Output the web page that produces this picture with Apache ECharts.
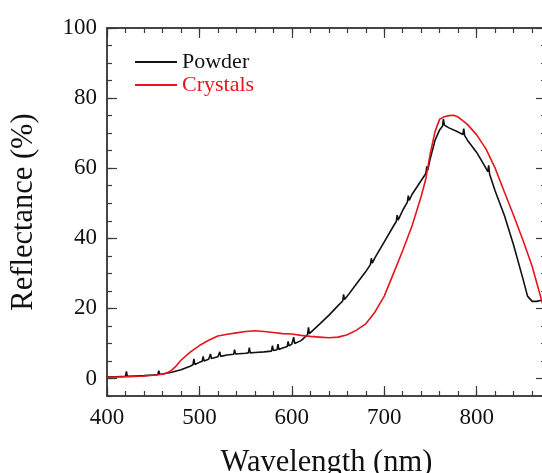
<!DOCTYPE html>
<html>
<head>
<meta charset="utf-8">
<script src="https://cdn.jsdelivr.net/npm/echarts@6/dist/echarts.min.js"></script>
<style>
  html, body { margin: 0; padding: 0; background: #fff; }
  #chart { width: 542px; height: 473px; }
</style>
</head>
<body>
<div id="chart"></div>
<script>
// Diffuse reflectance spectra: powder vs. crystals
const powderNm = [
  400, 410, 420, 421, 422, 430, 440, 450, 455, 456, 457, 460, 470, 480, 490, 493, 494, 495,
  500, 503, 504, 505, 510, 511, 512, 513, 520, 521, 522, 523, 530, 537, 538, 539, 540,
  550, 553, 554, 555, 560, 570, 578, 579, 580, 581, 584, 585, 586, 590, 595, 596, 597,
  600, 601, 602, 603, 610, 617, 618, 619, 620, 630, 640, 650, 655, 656, 657, 660, 670,
  680, 685, 686, 687, 690, 700, 710, 713, 714, 715, 720, 725, 726, 727, 730, 740, 745,
  746, 747, 750, 755, 760, 763, 764, 765, 770, 780, 785, 786, 787, 790, 800, 810, 812,
  813, 814, 820, 830, 840, 850, 855, 860, 865, 870, 875
];
const powderR = [
  0.5, 0.5, 0.6, 2.0, 0.6, 0.7, 0.8, 1.0, 1.1, 2.2, 1.2, 1.3, 1.8, 2.5, 3.5, 3.9, 5.6, 4.0,
  4.6, 4.9, 6.3, 5.0, 5.5, 5.6, 7.0, 5.7, 6.2, 6.2, 7.6, 6.3, 6.7, 6.9, 8.2, 7.0, 7.0,
  7.2, 7.3, 8.8, 7.3, 7.4, 7.6, 7.8, 9.4, 8.0, 8.1, 8.2, 9.8, 8.3, 8.7, 9.1, 10.6, 9.3,
  9.8, 9.9, 11.8, 10.0, 10.8, 12.5, 14.6, 12.8, 13.0, 15.5, 18.0, 20.8, 22.1, 24.0, 22.5, 23.5, 27.0,
  30.5, 32.5, 34.3, 32.9, 34.5, 39.0, 43.5, 44.8, 46.6, 45.2, 48.0, 50.3, 52.2, 50.8, 52.5, 56.5, 58.5,
  60.5, 59.4, 63.0, 68.0, 71.0, 72.0, 74.0, 72.3, 71.5, 70.3, 69.6, 71.3, 69.3, 68.0, 64.5, 60.0, 59.0,
  60.8, 58.3, 53.5, 46.5, 38.0, 28.5, 23.5, 22.0, 22.0, 22.3, 22.8
];

const crystalsNm = [
  400, 410, 420, 430, 440, 450, 460, 465, 470, 475, 480, 490, 500, 510, 520, 530, 540,
  550, 560, 570, 580, 590, 600, 610, 620, 630, 640, 650, 660, 670, 680, 690, 700, 710,
  720, 730, 740, 745, 750, 755, 760, 765, 770, 775, 780, 790, 800, 810, 820, 830, 840,
  850, 860, 870, 875
];
const crystalsR = [
  0.4, 0.4, 0.5, 0.6, 0.7, 0.9, 1.2, 1.6, 2.4, 3.6, 5.2, 7.5, 9.4, 10.9, 12.1, 12.6, 13.0,
  13.4, 13.6, 13.4, 13.1, 12.8, 12.7, 12.3, 12.0, 11.8, 11.6, 11.8, 12.5, 13.8, 15.6, 19.0, 23.5, 30.0,
  36.5, 43.5, 52.0, 57.0, 64.5, 70.5, 74.0, 74.7, 75.0, 75.1, 74.6, 72.5, 69.5, 65.5, 60.0, 53.2, 46.5,
  39.5, 32.0, 22.5, 18.0
];

const xMajorTicks = [400, 500, 600, 700, 800];
const yMajorTicks = [0, 20, 40, 60, 80, 100];

const FONT = 'Liberation Serif';
const AXIS_COLOR = '#3a3a3a';
const BLACK = '#111111';
const RED = '#e8141c';

const pairs = (xs, ys) => xs.map((x, i) => [x, ys[i]]);
const axisLine = { show: true, onZero: false, lineStyle: { color: AXIS_COLOR, width: 1.5 } };
const X_MIN = 400, X_MAX = 875, Y_MIN = -5, Y_MAX = 100;

function xAxisDef(position, major, withLabels) {
  const a = {
    type: 'value', position, min: X_MIN, max: X_MAX,
    axisLine, splitLine: { show: false },
    axisTick: { show: true, inside: true, length: major ? 10 : 5, lineStyle: { color: AXIS_COLOR, width: 1.2 } },
    axisLabel: { show: false }
  };
  if (major) {
    a.axisTick.customValues = xMajorTicks;
    if (withLabels) {
      a.axisLabel = { show: true, customValues: xMajorTicks, margin: 10, color: '#111', fontFamily: FONT, fontSize: 23 };
      a.name = 'Wavelength (nm)';
      a.nameLocation = 'middle';
      a.nameGap = 51;
      a.nameTextStyle = { color: '#111', fontFamily: FONT, fontSize: 30.5 };
    }
  } else {
    a.interval = 20;
  }
  return a;
}

function yAxisDef(position, major, withLabels) {
  const a = {
    type: 'value', position, min: Y_MIN, max: Y_MAX,
    axisLine, splitLine: { show: false },
    axisTick: { show: true, inside: true, length: major ? 10 : 5, lineStyle: { color: AXIS_COLOR, width: 1.2 } },
    axisLabel: { show: false }
  };
  if (major) {
    a.axisTick.customValues = yMajorTicks;
    if (withLabels) {
      a.axisLabel = { show: true, customValues: yMajorTicks, margin: 10, color: '#111', fontFamily: FONT, fontSize: 23 };
      a.name = 'Reflectance (%)';
      a.nameLocation = 'middle';
      a.nameGap = 68;
      a.nameTextStyle = { color: '#111', fontFamily: FONT, fontSize: 30.5 };
    }
  } else {
    a.interval = 5;
  }
  return a;
}

const chart = echarts.init(document.getElementById('chart'), null, { renderer: 'canvas' });
chart.setOption({
  animation: false,
  backgroundColor: '#ffffff',
  textStyle: { fontFamily: FONT },
  grid: { left: 107, right: -4, top: 28, bottom: 77, containLabel: false, outerBoundsMode: 'none' },
  xAxis: [
    xAxisDef('bottom', false, false),
    xAxisDef('bottom', true, true),
    xAxisDef('top', false, false),
    xAxisDef('top', true, false)
  ],
  yAxis: [
    yAxisDef('left', false, false),
    yAxisDef('left', true, true),
    yAxisDef('right', false, false),
    yAxisDef('right', true, false)
  ],
  legend: {
    orient: 'vertical',
    left: 130,
    top: 46,
    itemWidth: 42,
    itemHeight: 2,
    itemGap: 1,
    icon: 'rect',
    textStyle: { fontFamily: FONT, fontSize: 22, lineHeight: 22 },
    data: [
      { name: 'Powder', textStyle: { color: BLACK } },
      { name: 'Crystals', textStyle: { color: RED } }
    ]
  },
  series: [
    {
      name: 'Powder', type: 'line', xAxisIndex: 1, yAxisIndex: 1,
      data: pairs(powderNm, powderR),
      showSymbol: false, clip: true,
      itemStyle: { color: BLACK },
      lineStyle: { color: BLACK, width: 1.6 }
    },
    {
      name: 'Crystals', type: 'line', xAxisIndex: 1, yAxisIndex: 1,
      data: pairs(crystalsNm, crystalsR),
      showSymbol: false, clip: true,
      itemStyle: { color: RED },
      lineStyle: { color: RED, width: 1.6 }
    }
  ]
});
</script>
</body>
</html>
